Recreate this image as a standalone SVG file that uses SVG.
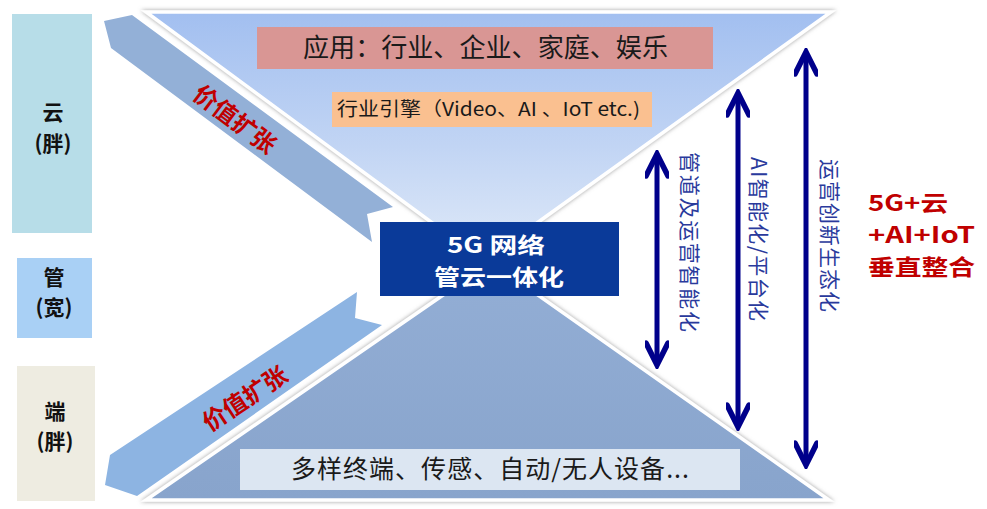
<svg xmlns="http://www.w3.org/2000/svg" width="987" height="509" viewBox="0 0 987 509">
<defs>
<linearGradient id="gTop" x1="0" y1="0" x2="0" y2="1">
<stop offset="0" stop-color="#a2bff0"/>
<stop offset="0.55" stop-color="#c2d5f4"/>
<stop offset="1" stop-color="#e0eaf8"/>
</linearGradient>
<linearGradient id="gBot" x1="0" y1="0" x2="0" y2="1">
<stop offset="0" stop-color="#93aed5"/>
<stop offset="1" stop-color="#88a4cc"/>
</linearGradient>
<filter id="sh" x="-5%" y="-10%" width="110%" height="120%">
<feDropShadow dx="0" dy="0" stdDeviation="2.2" flood-color="#7a7a7a" flood-opacity="0.75"/>
</filter>
<marker id="ah" viewBox="0 0 30 24" refX="26" refY="12" markerWidth="30" markerHeight="24" markerUnits="userSpaceOnUse" orient="auto-start-reverse">
<polyline points="4,1 26,12 4,23" fill="none" stroke="#00008b" stroke-width="5.5" stroke-linejoin="miter" stroke-linecap="round"/>
</marker>
<style>
.cjk{font-family:"Noto Sans CJK SC","Noto Sans",sans-serif;}
.lbl{font-family:"Noto Sans CJK SC","Noto Sans",sans-serif;font-weight:700;font-size:21px;fill:#111;text-anchor:middle;}
.red{font-family:"Noto Sans CJK SC","Noto Sans",sans-serif;font-weight:700;fill:#c00000;}
.vt{font-family:"Noto Sans CJK SC","Noto Sans",sans-serif;font-size:21px;fill:#2a3a9c;dominant-baseline:central;}
.conn{stroke:#00008b;stroke-width:5;fill:none;marker-start:url(#ah);marker-end:url(#ah);}
</style>
</defs>
<rect width="987" height="509" fill="#ffffff"/>

<!-- left column labels -->
<g id="cloud">
<rect x="12" y="14" width="80" height="219" fill="#b7dde8"/>
<text class="lbl" x="53" y="120">云</text>
<text class="lbl" x="53" y="151">(胖)</text>
</g>
<g id="pipe">
<rect x="17" y="258" width="75" height="80" fill="#a9d0f5"/>
<text class="lbl" x="54" y="285">管</text>
<text class="lbl" x="54" y="315">(宽)</text>
</g>
<g id="device">
<rect x="17" y="366" width="78" height="135" fill="#eeece1"/>
<text class="lbl" x="55" y="419">端</text>
<text class="lbl" x="55" y="449">(胖)</text>
</g>

<!-- triangles -->
<g id="topTriangle">
<polygon points="146,12 831,12 484,261" fill="url(#gTop)" stroke="#ffffff" stroke-width="3.5" stroke-linejoin="miter" filter="url(#sh)"/>
</g>
<g id="bottomTriangle">
<polygon points="146,500 829,500 491,262" fill="url(#gBot)" stroke="#ffffff" stroke-width="3.5" stroke-linejoin="miter" filter="url(#sh)"/>
</g>

<!-- value expansion arrows -->
<g id="arrowUp">
<polygon points="104,21 132,15 393,207 367,214 372,242 111,48" fill="#93b0d7"/>
<text class="red" font-size="24" text-anchor="middle" dominant-baseline="central" transform="translate(236,118) rotate(37)">价值扩张</text>
</g>
<g id="arrowDown">
<polygon points="110,455 357,292 355,318 382,325 137,496 105,485" fill="#8db4e2"/>
<text class="red" font-size="24" text-anchor="middle" dominant-baseline="central" transform="translate(244,397) rotate(-33.5)">价值扩张</text>
</g>

<!-- content boxes -->
<g id="apps">
<rect x="257" y="27" width="456" height="42" fill="#d99694"/>
<text class="cjk" x="303" y="57" font-size="26" fill="#1a1a1a" textLength="365" lengthAdjust="spacingAndGlyphs">应用：行业、企业、家庭、娱乐</text>
</g>
<g id="engine">
<rect x="332" y="92" width="320" height="35" fill="#fac090"/>
<text class="cjk" x="337" y="116" font-size="19" fill="#1a1a1a" textLength="303" lengthAdjust="spacingAndGlyphs">行业引擎（Video、AI 、IoT etc.)</text>
</g>
<g id="terminals">
<rect x="240" y="449" width="500" height="41" fill="#dce6f2"/>
<text class="cjk" x="291" y="478" font-size="25" fill="#1a1a1a" textLength="398" lengthAdjust="spacing">多样终端、传感、自动/无人设备...</text>
</g>
<g id="network">
<rect x="380" y="222" width="239" height="74" fill="#0a3a99"/>
<text class="cjk" x="447" y="253" font-size="22" font-weight="700" fill="#ffffff" textLength="98" lengthAdjust="spacingAndGlyphs">5G 网络</text>
<text class="cjk" x="434" y="285" font-size="22" font-weight="700" fill="#ffffff" textLength="130" lengthAdjust="spacingAndGlyphs">管云一体化</text>
</g>

<!-- vertical connectors -->
<g id="connectors">
<line class="conn" x1="657" y1="154" x2="657" y2="365"/>
<line class="conn" x1="738" y1="93" x2="738" y2="427"/>
<line class="conn" x1="806" y1="52" x2="806" y2="465"/>
</g>
<g id="labels">
<text class="vt" transform="translate(691,152) rotate(90)" textLength="180" lengthAdjust="spacing">管道及运营智能化</text>
<text class="vt" transform="translate(760,157) rotate(90)" textLength="164" lengthAdjust="spacing">AI智能化/平台化</text>
<text class="vt" transform="translate(831,159) rotate(90)" textLength="153" lengthAdjust="spacing">运营创新生态化</text>
</g>

<g id="summary">
<text class="red" x="868" y="211" font-size="22" textLength="80" lengthAdjust="spacingAndGlyphs">5G+云</text>
<text class="red" x="868" y="243" font-size="22" textLength="107" lengthAdjust="spacingAndGlyphs">+AI+IoT</text>
<text class="red" x="868" y="275" font-size="22" textLength="107" lengthAdjust="spacingAndGlyphs">垂直整合</text>
</g>
</svg>
